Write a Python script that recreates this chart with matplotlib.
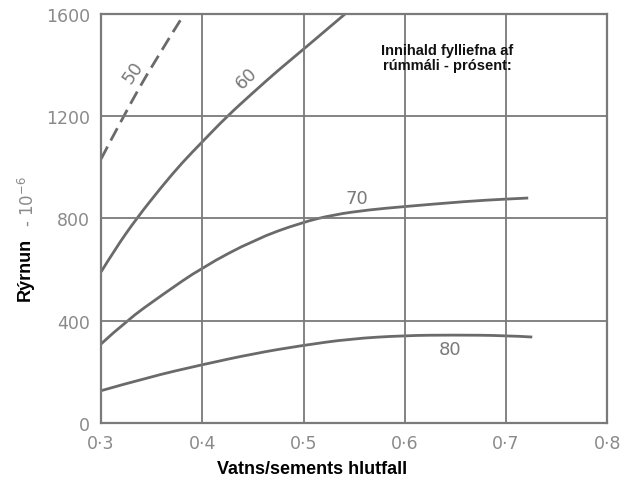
import matplotlib.pyplot as plt
from matplotlib.path import Path
from matplotlib.patches import PathPatch

# w/c ratio vs shrinkage, one curve per aggregate content (%)
x50 = [0.300, 0.322, 0.352, 0.383]
y50 = [1033, 1200, 1411, 1605]

x60 = [0.300, 0.314, 0.335, 0.360, 0.380, 0.400, 0.424, 0.450, 0.475, 0.500, 0.541]
y60 = [591, 681, 800, 925, 1018, 1100, 1198, 1292, 1380, 1462, 1600]

x70 = [0.300, 0.325, 0.360, 0.400, 0.452, 0.497, 0.530, 0.565, 0.598, 0.661, 0.700, 0.722]
y70 = [309, 400, 500, 609, 718, 783, 815, 834, 846, 867, 876, 880]

x80 = [0.300, 0.347, 0.400, 0.452, 0.497, 0.546, 0.600, 0.648, 0.700, 0.726]
y80 = [126, 179, 228, 272, 302, 329, 342, 344, 342, 336]

xticks = [0.3, 0.4, 0.5, 0.6, 0.7, 0.8]
xticklabels = ['0·3', '0·4', '0·5', '0·6', '0·7', '0·8']
yticks = [0, 400, 800, 1200, 1600]

gray = '#6a6a6a'
lgray = '#7a7a7a'


def smooth_path(xs, ys):
    # quadratic bezier through the midpoints, read points act as controls
    pts = list(zip(xs, ys))
    verts = [pts[0]]
    codes = [Path.MOVETO]
    for i in range(1, len(pts) - 1):
        if i < len(pts) - 2:
            end = ((pts[i][0] + pts[i + 1][0]) / 2, (pts[i][1] + pts[i + 1][1]) / 2)
        else:
            end = pts[-1]
        verts += [pts[i], end]
        codes += [Path.CURVE3, Path.CURVE3]
    return Path(verts, codes)


fig = plt.figure(figsize=(6.24, 4.85), dpi=100)
ax = fig.add_axes([0.162, 0.126, 0.811, 0.843])

ax.add_patch(PathPatch(smooth_path(x50, y50), fill=False, ec=gray, lw=2,
                       linestyle=(0, (5, 2.5))))
for xs, ys in [(x60, y60), (x70, y70), (x80, y80)]:
    ax.add_patch(PathPatch(smooth_path(xs, ys), fill=False, ec=gray, lw=2,
                           capstyle='butt'))

ax.set_xlim(0.3, 0.8)
ax.set_ylim(0, 1600)
ax.set_xticks(xticks)
ax.set_xticklabels(xticklabels)
ax.set_yticks(yticks)
ax.tick_params(length=0, labelsize=12.5, labelcolor='#8a8a8a', pad=8)
ax.grid(True, color=lgray, lw=1.3)
for s in ax.spines.values():
    s.set_color(lgray)
    s.set_linewidth(1.6)

ax.text(0.332, 1372, '50', rotation=55, color=lgray, fontsize=13,
        ha='center', va='center')
ax.text(0.444, 1352, '60', rotation=44, color=lgray, fontsize=13,
        ha='center', va='center')
ax.text(0.553, 880, '70', color=lgray, fontsize=13, ha='center', va='center')
ax.text(0.645, 289, '80', color=lgray, fontsize=13, ha='center', va='center')

ax.text(0.642, 1430, 'Innihald fylliefna af\nrúmmáli - prósent:', fontsize=10.5,
        fontweight='bold', family='Liberation Sans', ha='center', va='center',
        linespacing=1.05, color='#111111')

fig.text(0.5, 0.032, 'Vatns/sements hlutfall', fontsize=13, fontweight='bold',
         family='Liberation Sans', ha='center', va='center')
fig.text(0.040, 0.445, 'Rýrnun', rotation=90, fontsize=13, fontweight='bold',
         family='Liberation Sans', ha='center', va='center')
fig.text(0.044, 0.585, '- 10$^{-6}$', rotation=90, fontsize=12, color='#8a8a8a',
         ha='center', va='center')

fig.savefig('out.png', dpi=100)
